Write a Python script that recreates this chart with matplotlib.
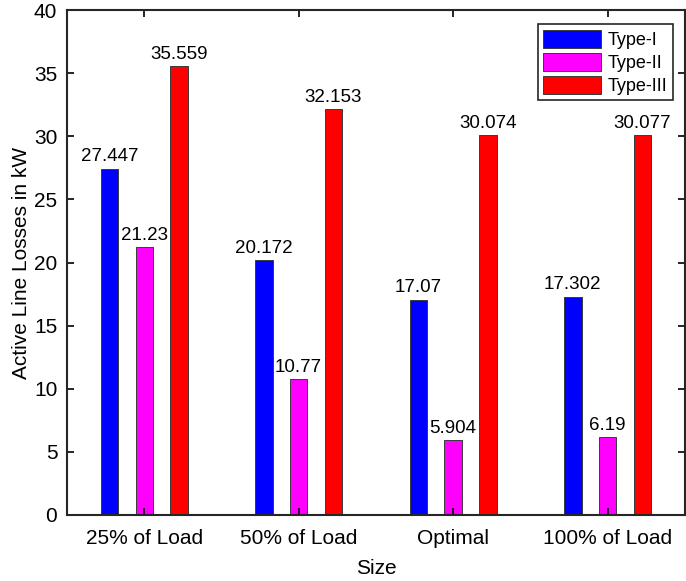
import numpy as np
import matplotlib.pyplot as plt

plt.rcParams['font.family'] = ['Liberation Sans', 'DejaVu Sans']

categories = ['25% of Load', '50% of Load', 'Optimal', '100% of Load']
series_names = ['Type-I', 'Type-II', 'Type-III']
type1 = [27.447, 20.172, 17.07, 17.302]
type2 = [21.23, 10.77, 5.904, 6.19]
type3 = [35.559, 32.153, 30.074, 30.077]
yticks = [0, 5, 10, 15, 20, 25, 30, 35, 40]

colors = ['#0000ff', '#ff00ff', '#ff0000']
fs_lab = 13.5
fs_leg = 13
fs_tick = 15

fig = plt.figure(figsize=(6.86, 5.81), dpi=100)
ax = fig.add_axes([0.0977, 0.1136, 0.9005, 0.869])

x = np.arange(1, len(categories) + 1)
offset = 0.225
width = 0.113

for i, (vals, name) in enumerate(zip([type1, type2, type3], series_names)):
    pos = x + (i - 1) * offset
    bars = ax.bar(pos, vals, width, color=colors[i], edgecolor='#3a3a3a',
                  linewidth=0.7, label=name)
    for b, v in zip(bars, vals):
        ax.text(b.get_x() + b.get_width() / 2, v + 0.25, f'{v:g}',
                ha='center', va='bottom', fontsize=fs_lab)

ax.set_xlim(0.5, 4.5)
ax.set_ylim(0, 40)
ax.set_xticks(x)
ax.set_xticklabels(categories)
ax.set_yticks(yticks)
ax.tick_params(direction='in', top=True, right=True, labelsize=fs_tick,
               length=5, width=1.2, pad=7)
ax.tick_params(axis='x', pad=10)
for s in ax.spines.values():
    s.set_linewidth(1.5)
    s.set_color('#262626')

ax.set_xlabel('Size', fontsize=fs_tick, labelpad=8)
ax.set_ylabel('Active Line Losses in kW', fontsize=fs_tick, labelpad=2)

leg = ax.legend(loc='upper right', bbox_to_anchor=(0.9805, 0.972), fontsize=fs_leg,
                fancybox=False, edgecolor='#262626', framealpha=1,
                handlelength=3.2, handleheight=1.2, handletextpad=0.35,
                borderpad=0.3, labelspacing=0.2, borderaxespad=0)
leg.get_frame().set_linewidth(1.2)

fig.savefig('out.png', dpi=100)
